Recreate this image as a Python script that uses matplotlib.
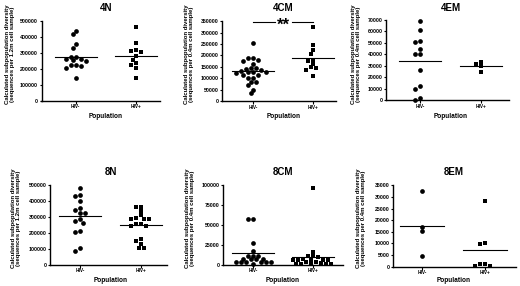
import matplotlib
matplotlib.use('Agg')
import matplotlib.pyplot as plt
import numpy as np
from matplotlib import transforms

plt.rcParams['font.family'] = ['Liberation Sans', 'DejaVu Sans']
plt.rcParams['font.weight'] = 'bold'

# ---------------- data ----------------
categories = ['HIV-', 'HIV+']
titles = ['4N', '4CM', '4EM', '8N', '8CM', '8EM']
ylabels = ['Calculated subpopulation diversity\n(sequences per 1.2m cell sample)',
           'Calculated subpopulation diversity\n(sequences per 0.4m cell sample)',
           'Calculated subpopulation diversity\n(sequences per 0.4m cell sample)',
           'Calculated subpopulation diversity\n(sequences per 1.2m cell sample)',
           'Calculated subpopulation diversity\n(sequences per 0.4m cell sample)',
           'Calculated subpopulation diversity\n(sequences per 0.4m cell sample)']

n4_neg = [442000, 417000, 356000, 333000, 278000, 276000, 265000, 255000, 253000,
          265000, 225000, 217000, 225000, 206000, 141000]
n4_pos = [467000, 364000, 318000, 305000, 310000, 283000, 258000, 235000, 225000,
          205000, 142000]
cm4_neg = [255000, 190000, 188000, 178000, 176000, 162000, 145000, 143000, 142000,
           135000, 133000, 128000, 127000, 126000, 125000, 116000, 115000, 100000,
           99000, 85000, 83000, 70000, 50000, 34000]
cm4_pos = [325000, 245000, 222000, 205000, 180000, 177000, 162000, 148000, 145000,
           137000, 110000]
em4_neg = [68800, 61000, 52000, 51000, 45000, 40500, 40500, 26000, 12000, 9500, 300, 2000]
em4_pos = [31200, 29400, 33000, 24500]
n8_neg = [483000, 435000, 441000, 403000, 359000, 345000, 324000, 324000, 288000,
          277000, 265000, 214000, 204000, 88000, 103000]
n8_pos = [366000, 362000, 338000, 311000, 292000, 290000, 289000, 288000, 258000,
          255000, 246000, 245000, 160000, 148000, 130000, 105000, 103000]
cm8_neg = [57000, 57500, 27000, 17500, 11500, 11000, 11000, 7500, 7500, 7000, 7000,
           3500, 3500, 3500, 3500, 3500, 3500, 1000]
cm8_pos = [96500, 16500, 11000, 10500, 9500, 7000, 6500, 6500, 6500, 6000, 6000,
           3500, 3000, 2000, 1500, 1500, 1500, 1500, 1000]
em8_neg = [32500, 17200, 15300, 4700]
em8_pos = [28200, 10000, 9600, 1000, 300, 300, 1100]

groups = [(n4_neg, n4_pos), (cm4_neg, cm4_pos), (em4_neg, em4_pos),
          (n8_neg, n8_pos), (cm8_neg, cm8_pos), (em8_neg, em8_pos)]
mean_lines = [(278000, 282000), (132000, 187000), (34400, 29400),
              (305000, 248000), (14300, 10000), (17600, 7200)]
y_max = [500000, 350000, 70000, 500000, 100000, 35000]
y_step = [100000, 50000, 10000, 100000, 25000, 5000]
signif_text = '**'

# ---------------- layout (pixels) ----------------
W, H = 520, 286
# left, right, top, bottom, cat0 x, cat1 x
geom = [(41.5, 160, 21.3, 100.7, 75.7, 135.7),
        (222, 336, 21.3, 101, 253.3, 313.3),
        (386, 509, 20, 100, 420, 481),
        (50, 167, 185.3, 264.7, 80, 141),
        (223, 343, 185.3, 264.7, 253, 313),
        (393, 516, 185.3, 266.7, 422, 485)]
label_pos = [(10, 54), (189, 54), (356, 54), (16, 218), (190, 218), (361, 218)]
title_y = [8, 8, 8, 172, 172, 172]
xlabel_y = [116.5, 116.5, 116.5, 280, 280, 280]

fig = plt.figure(figsize=(W / 100, H / 100), dpi=100)


def swarm(vals, ypx, xpx, d, dmin):
    """Greedy beeswarm: offsets on a half-step grid, no two markers closer than dmin px."""
    vals = np.asarray(vals, dtype=float)
    order = np.argsort(-vals, kind='stable')
    placed = []
    offs = np.zeros(len(vals))
    h = d / 2.0
    cands = [0] + [s * j for j in range(1, 40) for s in (-1, 1)]
    for i in order:
        y = vals[i] * ypx
        x = 0
        for c in cands:
            x = c * h
            if all((x - px) ** 2 + (y - py) ** 2 >= dmin ** 2 for px, py in placed):
                break
        placed.append((x, y))
        offs[i] = x / xpx
    return offs


markers = ['o', 's']
msizes = [3.4, 3.1]

for p in range(6):
    L, R, T, B, c0, c1 = geom[p]
    ax = fig.add_axes([L / W, 1 - B / H, (R - L) / W, (B - T) / H])
    s = c1 - c0
    ax.set_xlim((L - c0) / s, (R - c0) / s)
    ax.set_ylim(0, y_max[p])
    ypx = (B - T) / y_max[p]
    for gi in range(2):
        vals = groups[p][gi]
        offs = swarm(vals, ypx, s, 5.0, 4.0)
        ax.plot(gi + offs, vals, markers[gi], ls='none', color='black',
                ms=msizes[gi], mew=0, clip_on=False, zorder=3)
        m = mean_lines[p][gi]
        ax.plot([gi - 0.35, gi + 0.35], [m, m], color='black', lw=0.8, zorder=2)
    ax.set_xticks([0, 1])
    ax.set_xticklabels(categories, fontsize=3.4, fontweight='bold')
    yt = np.arange(0, y_max[p] + 1, y_step[p])
    ax.set_yticks(yt)
    ax.set_yticklabels([str(int(v)) for v in yt], fontsize=3.8, fontweight='bold')
    for sp in ['top', 'right']:
        ax.spines[sp].set_visible(False)
    for sp in ['left', 'bottom']:
        ax.spines[sp].set_linewidth(1.0)
    ax.tick_params(length=1.8, width=0.8, pad=0.8)
    ax.patch.set_alpha(0)

    tr = transforms.blended_transform_factory(ax.transData, fig.transFigure)
    fig.text(0.5, 1 - title_y[p] / H, titles[p], transform=tr, ha='center', va='center',
             fontsize=7, fontweight='bold')
    fig.text(0.5, 1 - xlabel_y[p] / H, 'Population', transform=tr, ha='center',
             va='center', fontsize=4.7, fontweight='bold')
    lx, ly = label_pos[p]
    fig.text(lx / W, 1 - ly / H, ylabels[p], rotation=90, ha='center', va='center',
             multialignment='center', fontsize=4.3, fontweight='bold', linespacing=1.15)

    if titles[p] == '4CM':
        yb = y_max[p] * 0.99
        ax.plot([0, 0.36], [yb, yb], color='black', lw=0.8, clip_on=False)
        ax.plot([0.64, 1], [yb, yb], color='black', lw=0.8, clip_on=False)
        ax.text(0.5, yb - y_max[p] * 0.045, signif_text, ha='center', va='center',
                fontsize=12, fontweight='bold', clip_on=False)

fig.savefig('out.png', dpi=100)
